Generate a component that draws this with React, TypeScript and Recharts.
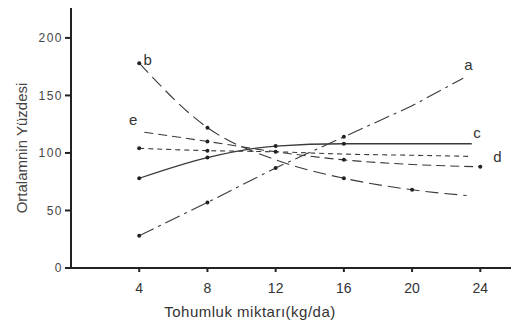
import React from 'react';
import { LineChart, Line, XAxis, YAxis, ReferenceDot } from 'recharts';

const xTicks = [4, 8, 12, 16, 20, 24];
const yTicks = [0, 50, 100, 150, 200];

// series a
const aX = [4, 8, 12, 16, 20, 23];
const aY = [28, 57, 87, 114, 141, 165];
const aMark = [1, 1, 1, 1, 0, 0];
// series b
const bX = [4, 8, 12, 16, 20, 23.2];
const bY = [178, 122, 94, 78, 68, 63];
const bMark = [1, 1, 0, 1, 1, 0];
// series c
const cX = [4, 8, 12, 16, 20, 23.5];
const cY = [78, 96, 106, 108, 108, 108];
const cMark = [1, 1, 1, 1, 0, 0];
// series d
const dX = [4, 8, 12, 16, 20, 23.5];
const dY = [104, 102, 101, 99, 98, 97];
const dMark = [1, 1, 1, 0, 0, 0];
// series e
const eX = [4.3, 8, 12, 16, 20, 24];
const eY = [118, 110, 101, 94, 90, 88];
const eMark = [0, 1, 0, 1, 0, 1];

const labelNames = ['a', 'b', 'c', 'd', 'e'];
const labelX = [23.3, 4.5, 23.8, 25.0, 3.65];
const labelY = [177, 181, 118, 97, 129];

const build = (xs: number[], ys: number[], ms: number[]) =>
  xs.map((x, i) => ({ x, y: ys[i], m: ms[i] }));

const series = [
  { name: 'a', data: build(aX, aY, aMark), dash: '16 5 3 5', w: 1.1, t: 'linear' },
  { name: 'b', data: build(bX, bY, bMark), dash: '13 6', w: 1.1, t: 'monotone' },
  { name: 'c', data: build(cX, cY, cMark), dash: undefined, w: 1.3, t: 'monotone' },
  { name: 'd', data: build(dX, dY, dMark), dash: '5 4', w: 1.1, t: 'monotone' },
  { name: 'e', data: build(eX, eY, eMark), dash: '9 5', w: 1.1, t: 'monotone' },
];

const ink = '#3a3a3a';

const Dot = (props: any) => {
  const { cx, cy, payload, key } = props;
  if (!payload || !payload.m) return <g key={key} />;
  return <circle key={key} cx={cx} cy={cy} r={2} fill="#222" stroke="none" />;
};

export default function App() {
  return (
    <div style={{ position: 'absolute', left: 0, top: 0, background: '#fff' }}>
      <LineChart
        width={513}
        height={325}
        margin={{ top: 8, right: 2, bottom: 0, left: 0 }}
        style={{ fontFamily: '"Liberation Sans", Arial, sans-serif' }}
      >
        <XAxis
          type="number"
          dataKey="x"
          domain={[0, 25.8]}
          ticks={xTicks}
          allowDuplicatedCategory={false}
          height={57}
          tickSize={4}
          tickMargin={11}
          stroke="#222"
          strokeWidth={2}
          tick={{ fill: '#333', fontSize: 14 }}
          label={(p: any) => (
            <text x={250} y={317} textAnchor="middle" fill="#333" fontSize={15} letterSpacing={0.5}>
              Tohumluk miktarı(kg/da)
            </text>
          )}
        />
        <YAxis
          type="number"
          dataKey="y"
          domain={[0, 226]}
          ticks={yTicks}
          width={71}
          tickSize={6}
          tickMargin={2}
          stroke="#222"
          strokeWidth={2}
          tick={{ fill: '#444', fontSize: 12, letterSpacing: 1.5 }}
          label={(p: any) => (
            <text
              x={27}
              y={148}
              transform="rotate(-90 27 148)"
              textAnchor="middle"
              fill="#444"
              fontSize={15}
            >
              Ortalamnin Yüzdesi
            </text>
          )}
        />
        {series.map((s) => (
          <Line
            key={s.name}
            data={s.data}
            dataKey="y"
            type={s.t as any}
            stroke={ink}
            strokeWidth={s.w}
            strokeDasharray={s.dash}
            dot={<Dot />}
            activeDot={false}
            isAnimationActive={false}
          />
        ))}
        {labelNames.map((n, i) => (
          <ReferenceDot
            key={n}
            x={labelX[i]}
            y={labelY[i]}
            r={0}
            fill="none"
            stroke="none"
            ifOverflow="visible"
            label={{ value: n, position: 'center', fill: '#333', fontSize: 15 }}
          />
        ))}
      </LineChart>
    </div>
  );
}
